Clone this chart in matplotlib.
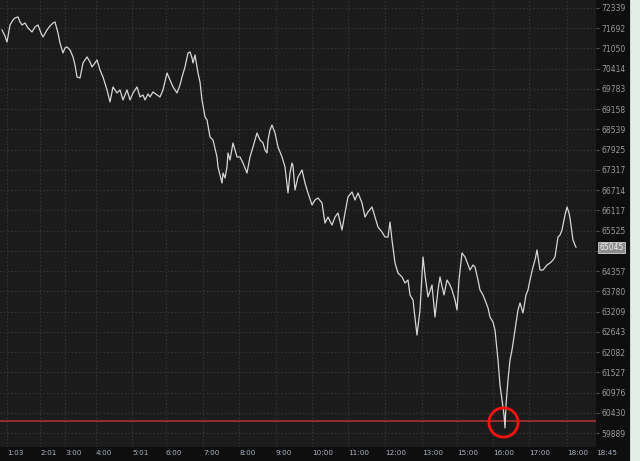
import matplotlib
matplotlib.use("Agg")
import matplotlib.pyplot as plt
from matplotlib.ticker import FixedLocator, NullLocator, FixedFormatter
from matplotlib.patches import Rectangle
import matplotlib.transforms as mtransforms
import numpy as np

# ---- data (bar index along the session, price) ----
bar = [2, 5, 7, 10, 13, 15, 18, 20, 22, 25, 28, 32, 35, 38, 41, 43, 47, 50, 53, 55,
       58, 60, 63, 65, 67, 70, 73, 75, 77, 80, 83, 87, 90, 92, 95, 97, 100, 103, 107, 110,
       113, 117, 120, 123, 127, 130, 133, 137, 140, 143, 145, 148, 150, 153, 157, 160, 163, 167, 170, 173,
       177, 180, 182, 185, 188, 190, 192, 193, 195, 198, 200, 202, 205, 207, 210, 213, 217, 218, 220, 222,
       223, 225, 227, 228, 230, 233, 235, 237, 240, 243, 247, 250, 253, 257, 260, 263, 265, 267, 268, 270,
       272, 275, 278, 282, 285, 288, 290, 292, 293, 295, 298, 302, 305, 308, 312, 315, 318, 322, 325, 328,
       332, 335, 338, 342, 345, 348, 352, 355, 358, 362, 365, 368, 372, 375, 378, 382, 385, 388, 390, 392,
       395, 398, 402, 405, 408, 410, 413, 415, 417, 420, 423, 425, 428, 432, 435, 438, 440, 444, 447, 450,
       452, 455, 457, 459, 462, 465, 467, 470, 473, 475, 478, 480, 483, 485, 488, 490, 493, 495, 498, 500,
       502, 504, 505, 506, 508, 510, 512, 515, 518, 520, 523, 526, 528, 530, 533, 535, 537, 540, 543, 547,
       550, 553, 555, 558, 560, 562, 565, 567, 569, 570, 573, 575, 576]
price = [71634, 71444, 71253, 71795, 71955, 72019, 72051, 71891, 71795, 71859, 71698, 71571, 71730, 71795, 71539, 71412, 71635, 71763, 71859, 71891,
         71539, 71221, 70908, 71066, 71097, 71003, 70782, 70530, 70154, 70123, 70593, 70782, 70625, 70467, 70593, 70688, 70373, 70154, 69752, 69380,
         69845, 69659, 69752, 69442, 69752, 69442, 69659, 69845, 69535, 69597, 69442, 69628, 69535, 69690, 69597, 69535, 69752, 70279, 70060, 69845,
         69659, 69907, 70154, 70467, 70908, 70940, 70751, 70593, 70845, 70279, 70000, 69442, 68919, 68827, 68308, 68217, 67705, 67404, 67164, 66926,
         67224, 67075, 67404, 67825, 67614, 68127, 67916, 67705, 67705, 67524, 67224, 67705, 68007, 68430, 68217, 68127, 67916, 67825, 68217, 68521,
         68673, 68430, 68007, 67705, 67404, 66631, 67224, 67524, 67434, 66720, 67106, 67314, 66926, 66631, 66276, 66423, 66483, 66335, 65746, 65921,
         65688, 65921, 66041, 65543, 66041, 66512, 66661, 66423, 66631, 66335, 65921, 66070, 66217, 65921, 65630, 65484, 65339, 65339, 65775, 65252,
         64589, 64303, 64189, 64017, 64103, 63678, 63537, 63029, 62554, 63254, 64762, 64245, 63622, 63961, 63057, 63820, 64189, 63678, 64103, 63961,
         63820, 63537, 63254, 64103, 64878, 64762, 64617, 64388, 64532, 64474, 64103, 63820, 63678, 63537, 63311, 63057, 62915, 62693, 61864, 61182,
         60775, 60371, 60024, 60639, 61317, 61864, 62140, 62693, 63254, 63452, 63171, 63678, 63820, 64103, 64474, 64675, 64964, 64388, 64388, 64532,
         64589, 64675, 64762, 65339, 65397, 65543, 65981, 66217, 66041, 65892, 65252, 65108, 65045]

price_ticks = [72339, 71692, 71050, 70414, 69783, 69158, 68539, 67925, 67317, 66714, 66117,
               65525, 64938, 64357, 63780, 63209, 62643, 62082, 61527, 60976, 60430, 59889]
time_ticks = [7, 40, 65, 96, 132, 166, 203, 239, 276, 312, 348, 385, 422, 457, 493, 529, 567, 596]
time_labels = ["1:03", "2:01", "3:00", "4:00", "5:01", "6:00", "7:00", "8:00", "9:00", "10:00",
               "11:00", "12:00", "13:00", "15:00", "16:00", "17:00", "18:00", "18:45"]
alert_level = 60210
last_price = 65045
y_range = (59518, 72596)
x_range = (0, 596)

W, H = 640, 461
fig = plt.figure(figsize=(W / 100, H / 100), dpi=100)
fig.patch.set_facecolor("#0e0e0e")

ax = fig.add_axes([0, 14 / H, 596 / W, 447 / H])
ax.set_facecolor("#1b1b1b")
ax.set_yscale("log")
ax.set_ylim(*y_range)
ax.set_xlim(*x_range)

for s in ax.spines.values():
    s.set_visible(False)

ax.yaxis.set_major_locator(FixedLocator(price_ticks))
ax.yaxis.set_major_formatter(FixedFormatter([str(p) for p in price_ticks]))
ax.yaxis.set_minor_locator(NullLocator())
ax.yaxis.tick_right()
ax.tick_params(axis="y", which="major", direction="out", length=2.5, width=0.8,
               color="#555555", labelcolor="#9a9a9a", labelsize=5.5, pad=1.5)

ax.xaxis.set_major_locator(FixedLocator(time_ticks))
ax.xaxis.set_major_formatter(FixedFormatter(time_labels))
ax.xaxis.set_minor_locator(NullLocator())
ax.tick_params(axis="x", which="major", length=0, labelcolor="#aab2c2", labelsize=5.2, pad=2.5)
for lab in ax.get_xticklabels():
    lab.set_horizontalalignment("left")

ax.grid(True, which="major", color="#3e3e3e", linestyle=(0, (1, 2.2)), linewidth=0.8)
ax.set_axisbelow(True)

ax.plot(bar, price, color="#d6d6d6", linewidth=0.9, zorder=3)
ax.axhline(alert_level, color="#a83232", linewidth=1.2, zorder=2)

imin = int(np.argmin(price))
ax.plot([bar[imin] - 2], [alert_level - 30], marker="o", markersize=21, markerfacecolor="none",
        markeredgecolor="#ff1010", markeredgewidth=2.0, zorder=5, clip_on=False)

trans = mtransforms.blended_transform_factory(ax.transAxes, ax.transData)
ax.text(1.0 + 3 / 596, last_price, str(last_price), transform=trans, ha="left", va="center",
        fontsize=5.5, color="#f0f0f0", zorder=10, clip_on=False,
        bbox=dict(boxstyle="square,pad=0.15", facecolor="#8c8c8c", edgecolor="#d0d0d0", linewidth=0.6))

# right-hand UI strip
fig.patches.append(Rectangle((630 / W, 0), 1 / W, 1, transform=fig.transFigure,
                             facecolor="#cfd8d3", edgecolor="none", zorder=0))
fig.patches.append(Rectangle((631 / W, 0), 9 / W, 1, transform=fig.transFigure,
                             facecolor="#e2efe8", edgecolor="none", zorder=0))

fig.savefig("out.png", dpi=100, facecolor=fig.get_facecolor())
